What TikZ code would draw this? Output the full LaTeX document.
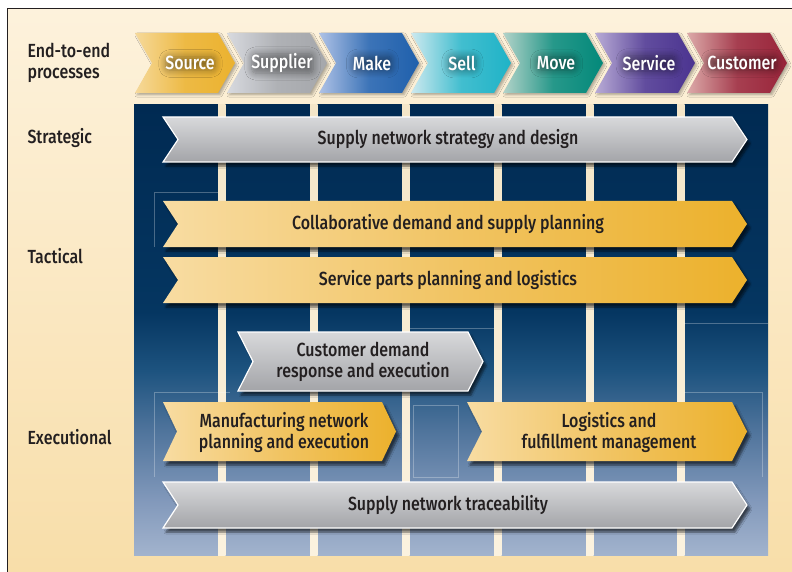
\documentclass[tikz,border=0pt]{standalone}
\usepackage{fontspec}
\setmainfont{Fira Sans}[UprightFont=* Medium, FakeStretch=0.84]
\usetikzlibrary{shadows.blur}

\definecolor{ink}{HTML}{231F20}
\definecolor{paperlt}{HTML}{FDF2DC}
\definecolor{paperdk}{HTML}{F8DEA9}
\definecolor{stripetop}{HTML}{F4E6C8}
\definecolor{stripebot}{HTML}{FBF2DF}
% panel colours, bottom to top
\definecolor{panlow}{HTML}{A2B3CD}
\definecolor{panlite}{HTML}{8299BB}
\definecolor{panmid}{HTML}{4E739B}
\definecolor{pansea}{HTML}{1D537F}
\definecolor{pandeep}{HTML}{053661}
\definecolor{pantop}{HTML}{002A52}
% bars
\definecolor{greylt}{HTML}{D8D9DB}
\definecolor{greydk}{HTML}{A3A4A8}
\definecolor{goldlt}{HTML}{F8DCA2}
\definecolor{goldmd}{HTML}{F1C463}
\definecolor{gold}{HTML}{ECB12C}
% process steps
\definecolor{srclt}{HTML}{F6D99A}\definecolor{src}{HTML}{EBB22F}
\definecolor{suplt}{HTML}{D8DADF}\definecolor{sup}{HTML}{A5A7AB}
\definecolor{makelt}{HTML}{AFC2E6}\definecolor{make}{HTML}{1F60AC}
\definecolor{selllt}{HTML}{CDE9EF}\definecolor{sell}{HTML}{1FB3C7}
\definecolor{movelt}{HTML}{B3D3C9}\definecolor{move}{HTML}{03897A}
\definecolor{servlt}{HTML}{B9ACD6}\definecolor{serv}{HTML}{4B3490}
\definecolor{custlt}{HTML}{DCAAA9}\definecolor{cust}{HTML}{99243A}

\pgfdeclareverticalshading{panelfill}{100bp}{color(0bp)=(panlow); color(25bp)=(panlow);
  color(31bp)=(panlite); color(39bp)=(panmid); color(45.5bp)=(pansea);
  color(52bp)=(pandeep); color(75bp)=(pantop); color(100bp)=(pantop)}

% chevron: left x, top y, body width, height, point depth
\newcommand{\chevron}[5]{(#1,#2) -- ++(#3,0) -- ++(#5,#4/2) -- ++(-#5,#4/2) -- ++(-#3,0) -- ++(#5,-#4/2) -- cycle}

\begin{document}
\begin{tikzpicture}[
  x=1pt, y=-1pt,
  font=\fontsize{19}{21}\selectfont,
  hd/.style 2 args={left color=#1, right color=#2, middle color=#2!80!#1,
    blur shadow={shadow xshift=2pt, shadow yshift=-2pt, shadow opacity=30, shadow blur steps=5}},
  hdlbl/.style={text=white, inner sep=0pt, rounded corners=4pt,
    blur shadow={shadow xshift=0.5pt, shadow yshift=-0.5pt, shadow opacity=40,
      shadow blur radius=7pt, shadow blur steps=10}},
  rowgrey/.style={top color=greylt, bottom color=greydk, draw=white, line width=1.2pt,
    blur shadow={shadow xshift=3pt, shadow yshift=-4pt, shadow opacity=60, shadow blur steps=6}},
  rowgold/.style={left color=goldlt, right color=gold, middle color=goldmd,
    blur shadow={shadow xshift=3pt, shadow yshift=-4pt, shadow opacity=60, shadow blur steps=6}},
  rowlbl/.style={text=ink, align=center},
  side/.style={anchor=west, align=left, text=ink},
  stripe/.style={top color=stripetop, bottom color=stripebot},
  ghost/.style={draw=white, draw opacity=0.28, line width=0.6pt}
]
\useasboundingbox (0,0) rectangle (792,572);
\fill[white] (0,0) rectangle (792,572);
\shade[top color=paperlt, bottom color=paperdk] (7.5,8.5) rectangle (792,572);
\draw[ink, line width=1.5pt] (792,8.5) -- (7.5,8.5) -- (7.5,572);

% dark panel and its column gaps
\shade[shading=panelfill] (134,105) rectangle (768,555);
\shade[stripe] (218,105) rectangle (225.5,555);
\shade[stripe] (310,105) rectangle (317.5,555);
\shade[stripe] (402,105) rectangle (409.5,555);
\shade[stripe] (494,105) rectangle (501.5,555);
\shade[stripe] (586,105) rectangle (593.5,555);
\shade[stripe] (677,105) rectangle (684.5,555);
\draw[ghost] (154,247) -- (154,192) -- (218,192);
\draw[ghost] (230,392) -- (154,392) -- (154,477);
\draw[ghost] (413,405) rectangle (458,477);
\draw[ghost] (410,328) -- (494,328);
\draw[ghost] (684,392) -- (762,392) -- (762,477);
\draw[ghost] (684,323) -- (768,323);

% end-to-end process steps
\path[hd={srclt}{src}] \chevron{135}{33}{83}{60}{17};
\path[hd={suplt}{sup}] \chevron{227}{33}{83}{60}{17};
\path[hd={makelt}{make}] \chevron{319}{33}{83}{60}{17};
\path[hd={selllt}{sell}] \chevron{411}{33}{83}{60}{17};
\path[hd={movelt}{move}] \chevron{503}{33}{83}{60}{17};
\path[hd={servlt}{serv}] \chevron{595}{33}{83}{60}{17};
\path[hd={custlt}{cust}] \chevron{687}{33}{83}{60}{17};
\node[hdlbl] (source) at (190,63) {Source};
\node[hdlbl] (supplier) at (282,63) {Supplier};
\node[hdlbl] (make) at (372,63) {Make};
\node[hdlbl] (sell) at (462,63) {Sell};
\node[hdlbl] (move) at (556,63) {Move};
\node[hdlbl] (service) at (649,63) {Service};
\node[hdlbl] (customer) at (742,63) {Customer};

% planning bars
\path[rowgrey] \chevron{163}{117}{569}{45}{15};
\path[rowgold] \chevron{163}{201}{569}{46}{15};
\path[rowgold] \chevron{163}{257}{569}{46}{15};
\path[rowgrey] \chevron{238}{332}{230}{59}{15};
\path[rowgold] \chevron{163}{402}{219}{59}{14};
\path[rowgold] \chevron{467}{402}{265}{59}{15};
\path[rowgrey] \chevron{163}{482}{569}{46}{15};
\node[rowlbl] (design) at (448,139.5) {Supply network strategy and design};
\node[rowlbl] (collab) at (448,224) {Collaborative demand and supply planning};
\node[rowlbl] (parts) at (448,280) {Service parts planning and logistics};
\node[rowlbl] (demand) at (363,362) {Customer demand\\response and execution};
\node[rowlbl] (mfg) at (284,432) {Manufacturing network\\planning and execution};
\node[rowlbl] (fulfil) at (609,432) {Logistics and\\fulfillment management};
\node[rowlbl] (trace) at (448,505) {Supply network traceability};

% level labels
\node[side] (e2e) at (24,62.5) {End-to-end\\processes};
\node[side] (strategic) at (24,138.5) {Strategic};
\node[side] (tactical) at (24,256) {Tactical};
\node[side] (exec) at (24,437.5) {Executional};
\end{tikzpicture}
\end{document}
